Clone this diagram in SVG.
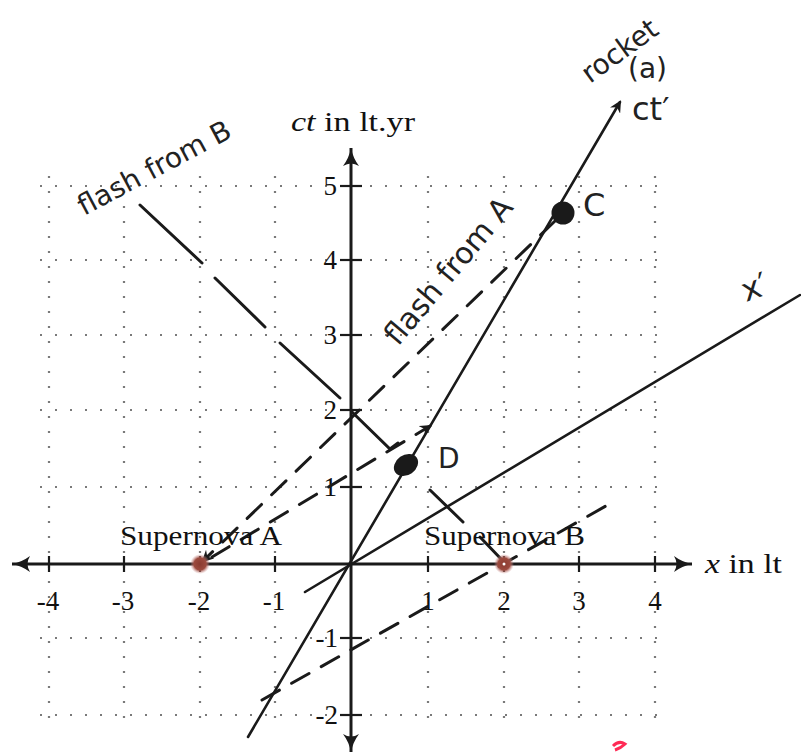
<svg xmlns="http://www.w3.org/2000/svg" width="801" height="753" viewBox="0 0 801 753">
<defs>
<style>
.grid line{stroke:#7a7a7a;stroke-width:2.2;stroke-dasharray:2 13}
.axis{stroke:#1a1a1a;stroke-width:3;fill:none}
.tick{stroke:#1a1a1a;stroke-width:2.2}
.num{font-family:"Liberation Serif","DejaVu Serif",serif;font-size:27px;fill:#111}
.lab{font-family:"Liberation Serif","DejaVu Serif",serif;font-size:28px;fill:#111}
.hand{font-family:"DejaVu Sans","Liberation Sans",sans-serif;fill:#222}
.solid{stroke:#1a1a1a;stroke-width:2.6;fill:none;stroke-linecap:round}
.flash{stroke:#1a1a1a;stroke-width:3;fill:none;stroke-linecap:round}
.dash{stroke:#1a1a1a;stroke-width:3;fill:none;stroke-dasharray:20 14;stroke-linecap:round}
</style>
<marker id="ah" viewBox="0 0 12 12" refX="10" refY="6" markerWidth="12" markerHeight="12" markerUnits="userSpaceOnUse" orient="auto">
<path d="M0,0 L12,6 L0,12 L4,6 Z" fill="#1a1a1a"/>
</marker>
<marker id="axh" viewBox="0 0 20 16" refX="18" refY="8" markerWidth="20" markerHeight="16" markerUnits="userSpaceOnUse" orient="auto">
<path d="M0,0 Q8,6 18,8 Q8,10 0,16 Q5,8 0,0 Z" fill="#1a1a1a"/>
</marker>
<radialGradient id="sn">
<stop offset="0" stop-color="#8a3b30"/>
<stop offset="0.6" stop-color="#9c4a3e"/>
<stop offset="1" stop-color="#d9a0a0" stop-opacity="0"/>
</radialGradient>
</defs>
<rect width="801" height="753" fill="#ffffff"/>

<g id="grid" class="grid">
<line x1="49" y1="176" x2="49" y2="724"/>
<line x1="124" y1="176" x2="124" y2="724"/>
<line x1="200" y1="176" x2="200" y2="724"/>
<line x1="275" y1="176" x2="275" y2="724"/>
<line x1="428" y1="176" x2="428" y2="724"/>
<line x1="504" y1="176" x2="504" y2="724"/>
<line x1="579" y1="176" x2="579" y2="724"/>
<line x1="655" y1="176" x2="655" y2="724"/>
<line x1="40" y1="186" x2="662" y2="186"/>
<line x1="40" y1="260" x2="662" y2="260"/>
<line x1="40" y1="335" x2="662" y2="335"/>
<line x1="40" y1="410" x2="662" y2="410"/>
<line x1="40" y1="487" x2="662" y2="487"/>
<line x1="40" y1="638" x2="662" y2="638"/>
<line x1="40" y1="715" x2="662" y2="715"/>
</g>

<g id="axes">
<line class="axis" x1="351" y1="564" x2="692" y2="564" marker-end="url(#axh)"/>
<line class="axis" x1="351" y1="564" x2="12" y2="564" marker-end="url(#axh)"/>
<line class="axis" x1="351" y1="564" x2="351" y2="148" marker-end="url(#axh)"/>
<line class="axis" x1="351" y1="564" x2="351" y2="752" marker-end="url(#axh)"/>
<g class="tick">
<line x1="49" y1="556" x2="49" y2="572"/>
<line x1="124" y1="556" x2="124" y2="572"/>
<line x1="200" y1="556" x2="200" y2="572"/>
<line x1="275" y1="556" x2="275" y2="572"/>
<line x1="428" y1="556" x2="428" y2="572"/>
<line x1="504" y1="556" x2="504" y2="572"/>
<line x1="579" y1="556" x2="579" y2="572"/>
<line x1="655" y1="556" x2="655" y2="572"/>
<line x1="340" y1="186" x2="362" y2="186"/>
<line x1="340" y1="260" x2="362" y2="260"/>
<line x1="340" y1="335" x2="362" y2="335"/>
<line x1="340" y1="410" x2="362" y2="410"/>
<line x1="340" y1="487" x2="362" y2="487"/>
<line x1="340" y1="638" x2="362" y2="638"/>
<line x1="340" y1="715" x2="362" y2="715"/>
</g>
<g class="num" text-anchor="middle">
<text x="48" y="610">-4</text>
<text x="123" y="610">-3</text>
<text x="199" y="610">-2</text>
<text x="274" y="610">-1</text>
<text x="428" y="610">1</text>
<text x="504" y="610">2</text>
<text x="579" y="610">3</text>
<text x="655" y="610">4</text>
</g>
<g class="num" text-anchor="end">
<text x="337" y="195">5</text>
<text x="337" y="269">4</text>
<text x="337" y="344">3</text>
<text x="337" y="419">2</text>
<text x="337" y="496">1</text>
<text x="338" y="647">-1</text>
<text x="338" y="724">-2</text>
</g>
<text class="lab" x="291" y="131" textLength="124" lengthAdjust="spacingAndGlyphs"><tspan font-style="italic">ct</tspan> in lt.yr</text>
<text class="lab" x="705" y="573" textLength="77" lengthAdjust="spacingAndGlyphs"><tspan font-style="italic">x</tspan> in lt</text>
</g>

<g id="connectors">
<line id="ct-prime" class="solid" x1="248" y1="737" x2="620" y2="102" marker-end="url(#ah)"/>
<line id="x-prime" class="solid" x1="305" y1="592" x2="800" y2="295"/>
<line id="flash-A" class="dash" x1="555" y1="221" x2="203" y2="561" stroke-dasharray="24 14" marker-end="url(#ah)"/>
<line id="simul-A" class="dash" x1="212" y1="557" x2="430" y2="426" marker-end="url(#ah)"/>
<line id="simul-B" class="dash" x1="262" y1="700" x2="613" y2="502" stroke-dasharray="24 14"/>
<g id="flash-B" class="flash">
<line x1="140" y1="205" x2="202" y2="263"/>
<line x1="215" y1="278" x2="265" y2="327"/>
<line x1="280" y1="343" x2="340" y2="398"/>
<polyline points="352,412 390,449 398,443"/>
<line x1="430" y1="490" x2="463" y2="522"/>
<line x1="480" y1="537" x2="502" y2="560"/>
</g>
</g>

<g id="supernovaA">
<circle cx="200" cy="564" r="10" fill="url(#sn)"/>
<text class="lab" x="120" y="545" textLength="162" lengthAdjust="spacingAndGlyphs">Supernova A</text>
</g>
<g id="supernovaB">
<circle cx="504" cy="564" r="10" fill="url(#sn)"/>
<circle cx="504" cy="564" r="1.5" fill="#ffffff"/>
<text class="lab" x="424" y="545" textLength="161" lengthAdjust="spacingAndGlyphs">Supernova B</text>
</g>
<g id="eventC">
<circle cx="563" cy="213" r="11.5" fill="#1a1a1a"/>
<text class="hand" x="583" y="216" font-size="32">C</text>
</g>
<g id="eventD">
<ellipse cx="406" cy="465" rx="13" ry="10" transform="rotate(-35 406 465)" fill="#1a1a1a"/>
<text class="hand" x="438" y="468" font-size="28">D</text>
</g>

<g id="annotations">
<text class="hand" font-size="28" transform="translate(84,216) rotate(-28)">flash from B</text>
<text class="hand" font-size="30" transform="translate(398,347) rotate(-50)">flash from A</text>
<text class="hand" font-size="28" transform="translate(590,84) rotate(-36)">rocket</text>
<text class="hand" font-size="28" x="628" y="78">(a)</text>
<text class="hand" font-size="32" x="632" y="120">ct′</text>
<text class="hand" font-size="32" transform="translate(746,302) rotate(-20)">x′</text>
<path d="M613,746 q6,-6 12,-2 q-4,4 -10,6" fill="none" stroke="#ff2a55" stroke-width="3"/>
</g>
</svg>
